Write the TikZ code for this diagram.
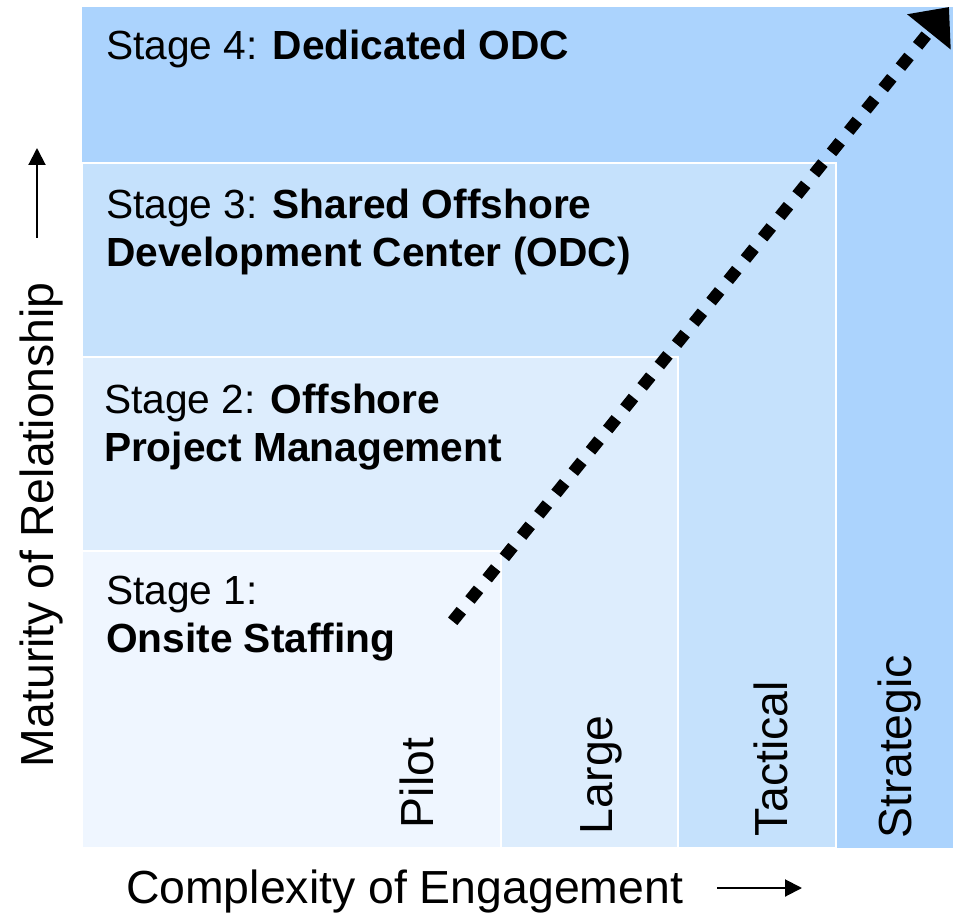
\documentclass[tikz,border=0pt]{standalone}
\usepackage{fontspec}
\setmainfont{Liberation Sans}
\usepackage{tikz}
\usetikzlibrary{arrows.meta}
\definecolor{stagefour}{RGB}{171,211,253}
\definecolor{stagethree}{RGB}{197,225,252}
\definecolor{stagetwo}{RGB}{221,237,253}
\definecolor{stageone}{RGB}{239,246,255}

\begin{document}
\begin{tikzpicture}[x=0.5pt,y=-0.5pt,>={Triangle[length=8.5pt,width=8.5pt]},
		line width=1pt]
		\tikzstyle{every node}=[inner sep=0pt]
		\tikzstyle{stage box}=[draw=white,line width=1pt]
		\tikzstyle{stage text}=[anchor=base west,align=left,font=\fontsize{20.35}{24}\selectfont]
		\tikzstyle{axis text}=[anchor=base west,font=\fontsize{23.2}{28}\selectfont]
		\tikzstyle{level text}=[axis text,rotate=90]
		
		\useasboundingbox (0,0) rectangle (953,914);
		
		% nested stage areas
		\fill[stagefour] (82,7) rectangle (953,848);
		\filldraw[stage box,fill=stagethree] (82,163) rectangle (836,848);
		\filldraw[stage box,fill=stagetwo]   (82,357) rectangle (678,848);
		\filldraw[stage box,fill=stageone]   (82,551) rectangle (501,848);
		
		% base = last line
		\node[stage text] (s4) at (105,60)  {Stage 4: \textbf{Dedicated ODC}};
		\node[stage text] (s3) at (105,267) {Stage 3: \textbf{Shared Offshore}\\\textbf{Development Center (ODC)}};
		\node[stage text] (s2) at (103,461) {Stage 2: \textbf{Offshore}\\\textbf{Project Management}};
		\node[stage text] (s1) at (105,652) {Stage 1:\\\textbf{Onsite Staffing}};
		
		\node[level text] (pilot)     at (433,829) {Pilot};
		\node[level text] (large)     at (612,835) {Large};
		\node[level text] (tactical)  at (787,837) {Tactical};
		\node[level text] (strategic) at (911,839) {Strategic};
		
		% axes
		\node[axis text,rotate=90] (maturity) at (54,768) {Maturity of Relationship};
		\node[axis text]         (complexity) at (125,903) {Complexity of Engagement};
		\coordinate (up0) at (37,238);
		\coordinate (up1) at (37,148);
		\coordinate (rt0) at (717,888);
		\coordinate (rt1) at (802,888);
		\draw[->] (up0) -- (up1);
		\draw[->] (rt0) -- (rt1);
		
		% growth path
		\coordinate (start) at (452.7,621.3);
		\coordinate (goal)  at (949,7);
		\draw[line width=6pt,dash pattern=on 6.85pt off 6.85pt,
		-{Triangle[length=16pt,width=27pt]}] (start) -- (goal);
\end{tikzpicture}
\end{document}
